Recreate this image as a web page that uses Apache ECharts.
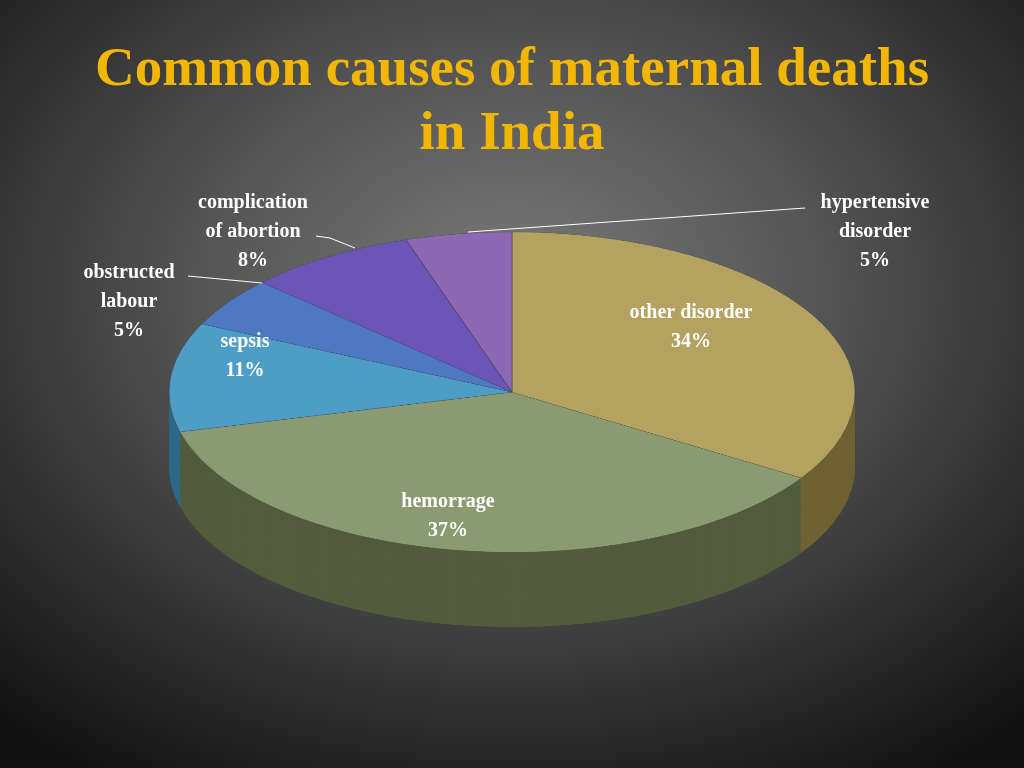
<!DOCTYPE html>
<html><head><meta charset="utf-8">
<script src="https://cdn.jsdelivr.net/npm/echarts@6/dist/echarts.min.js"></script>
<style>
html,body{margin:0;padding:0;width:1024px;height:768px;overflow:hidden;
background:radial-gradient(ellipse 75% 75% at 50% 38%,#7a7a7a 0%,#555 40%,#222 85%,#111 100%);}
#pie{position:absolute;left:167px;top:231px;width:690px;height:850px;transform:scaleY(0.467);transform-origin:0 0;}
#txt{position:absolute;left:0;top:0;width:1024px;height:768px;}
</style></head><body>
<div id="pie"></div><div id="txt"></div>
<script>
const categories=['other disorder','hemorrage','sepsis','obstructed labour','complication of abortion','hypertensive disorder'];
const values=[34,37,11,5,8,5];
const topColors=['#b3a260','#8a9b72','#4e9dc6','#4e78c2','#6b56b8','#8c68b2'];
const sideColors=['#6e6232','#525c3c','#2c6a88','#2e4a80','#40327a','#5a3e76'];

const pie=echarts.init(document.getElementById('pie'));
const series=[];
const steps=40;
for(let i=steps;i>=1;i--){
  series.push({type:'pie',radius:[0,343],center:[345,345+160*i/steps],startAngle:90,silent:true,
    label:{show:false},labelLine:{show:false},animation:false,
    data:categories.map((c,k)=>({name:c,value:values[k],itemStyle:{color:sideColors[k],borderWidth:0}}))});
}
series.push({type:'pie',radius:[0,343],center:[345,345],startAngle:90,animation:false,
  label:{show:false},labelLine:{show:false},
  data:categories.map((c,k)=>({name:c,value:values[k],itemStyle:{color:topColors[k],borderColor:'rgba(60,60,60,0.5)',borderWidth:1}}))});
pie.setOption({series});

const t=echarts.init(document.getElementById('txt'));
const f='bold 20px "Liberation Serif"';
function tx(x,y,s,align){return {type:'text',x,y,style:{text:s,font:f,fill:'#ffffff',align:align||'center',lineHeight:29}};}
function ln(pts){return {type:'polyline',shape:{points:pts},style:{stroke:'#ffffff',lineWidth:1,fill:null}};}
t.setOption({
  title:{text:'Common causes of maternal deaths\nin India',left:'center',top:34,
    textStyle:{fontFamily:'Liberation Serif',fontWeight:'bold',fontSize:55,color:'#f2b705',lineHeight:64}},
  graphic:[
    tx(875,188,'hypertensive\ndisorder\n'+values[5]+'%'),
    tx(691,298,'other disorder\n'+values[0]+'%'),
    tx(448,487,'hemorrage\n'+values[1]+'%'),
    tx(245,327,'sepsis\n'+values[2]+'%'),
    tx(129,258,'obstructed\nlabour\n'+values[3]+'%'),
    tx(253,188,'complication\nof abortion\n'+values[4]+'%'),
    ln([[468,232],[805,208]]),
    ln([[188,276],[262,283]]),
    ln([[316,236],[330,238],[355,248]])
  ]
});
</script></body></html>
